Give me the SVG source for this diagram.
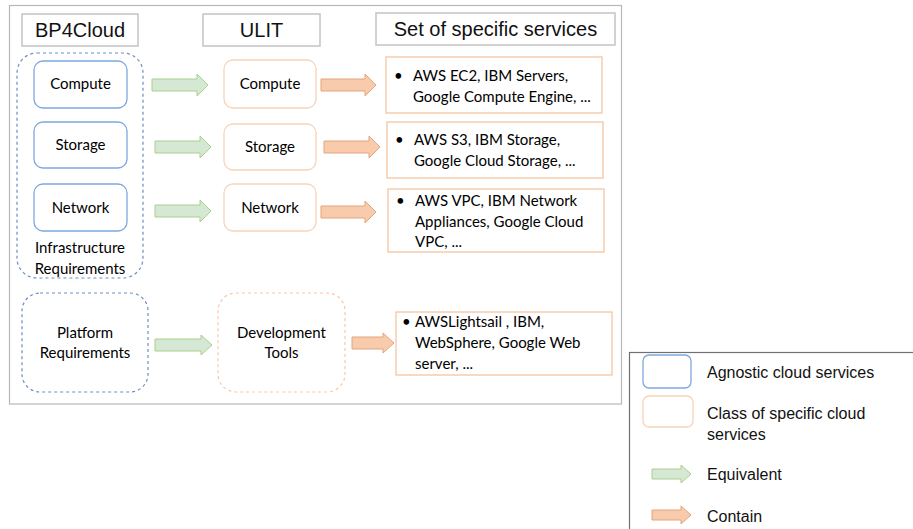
<svg xmlns="http://www.w3.org/2000/svg" width="913" height="529" viewBox="0 0 913 529">
<defs>
<style>
.frame{fill:#fff;stroke:#b8b8b8;stroke-width:1.2}
.hdr{fill:#fff;stroke:#c4c4c4;stroke-width:1.5}
.htx{font-family:"Liberation Sans",Arial,sans-serif;font-size:20px;fill:#111;text-anchor:middle}
.blue{fill:#fff;stroke:#7ea6e0;stroke-width:1.3}
.peach{fill:#fff;stroke:#f8d3b8;stroke-width:1.3}
.svc{fill:#fff;stroke:#f5c6a2;stroke-width:1.3}
.dblue{fill:none;stroke:#6c8ebf;stroke-width:1.2;stroke-dasharray:3 3}
.dpeach{fill:none;stroke:#f8c9a8;stroke-width:1.2;stroke-dasharray:3 3}
.ntx{font-family:Lato,"Noto Sans",sans-serif;font-size:15px;fill:#000;text-anchor:middle}
.stx{font-family:Lato,"Noto Sans",sans-serif;font-size:15px;fill:#000}
.ltx{font-family:"Liberation Sans",Arial,sans-serif;font-size:16px;fill:#111}
.eq{fill:#d5e8d4;stroke:#a9d08e;stroke-width:1}
.ct{fill:#f8cbad;stroke:#e3a57c;stroke-width:1}
</style>
</defs>
<rect width="913" height="529" fill="#fff"/>
<rect class="frame" x="9.5" y="5.5" width="612" height="398.5"/>

<g id="headers">
<rect class="hdr" x="22" y="14" width="116" height="32"/>
<text class="htx" x="80" y="37">BP4Cloud</text>
<rect class="hdr" x="203" y="14" width="117" height="32"/>
<text class="htx" x="261.5" y="37">ULIT</text>
<rect class="hdr" x="376" y="13" width="239" height="32"/>
<text class="htx" x="495.5" y="36">Set of specific services</text>
</g>

<g id="infra-group">
<rect class="dblue" x="17" y="53" width="126" height="225" rx="20"/>
<text class="ntx" x="80" y="253">Infrastructure</text>
<text class="ntx" x="80" y="274">Requirements</text>
</g>
<g id="bp-compute"><rect class="blue" x="34" y="61" width="93" height="47" rx="9"/><text class="ntx" x="80.5" y="89">Compute</text></g>
<g id="bp-storage"><rect class="blue" x="34" y="122" width="93" height="46" rx="9"/><text class="ntx" x="80.5" y="150">Storage</text></g>
<g id="bp-network"><rect class="blue" x="34" y="184" width="93" height="47" rx="9"/><text class="ntx" x="80.5" y="213">Network</text></g>

<g id="ulit-compute"><rect class="peach" x="224" y="60" width="92" height="48" rx="9"/><text class="ntx" x="270" y="89">Compute</text></g>
<g id="ulit-storage"><rect class="peach" x="224" y="124" width="92" height="46" rx="9"/><text class="ntx" x="270" y="152">Storage</text></g>
<g id="ulit-network"><rect class="peach" x="224" y="184" width="92" height="47" rx="9"/><text class="ntx" x="270" y="213">Network</text></g>

<g id="svc-compute">
<rect class="svc" x="386" y="57" width="216" height="56"/>
<text class="stx" x="394" y="81">•</text>
<text class="stx" x="413" y="81">AWS EC2, IBM Servers,</text>
<text class="stx" x="413" y="102">Google Compute Engine, ...</text>
</g>
<g id="svc-storage">
<rect class="svc" x="387" y="122" width="216" height="56"/>
<text class="stx" x="395" y="145">•</text>
<text class="stx" x="414" y="145">AWS S3, IBM Storage,</text>
<text class="stx" x="414" y="166">Google Cloud Storage, ...</text>
</g>
<g id="svc-network">
<rect class="svc" x="388" y="189" width="216" height="63"/>
<text class="stx" x="396" y="206">•</text>
<text class="stx" x="415" y="206">AWS VPC, IBM Network</text>
<text class="stx" x="415" y="226.5">Appliances, Google Cloud</text>
<text class="stx" x="415" y="247">VPC, ...</text>
</g>

<g id="platform"><rect class="dblue" x="22" y="293" width="126" height="99" rx="18"/><text class="ntx" x="85" y="338">Platform</text><text class="ntx" x="85" y="358">Requirements</text></g>
<g id="devtools"><rect class="dpeach" x="218" y="293" width="127" height="99" rx="18"/><text class="ntx" x="281.5" y="338">Development</text><text class="ntx" x="281.5" y="358">Tools</text></g>
<g id="svc-platform">
<rect class="svc" x="396" y="312" width="216" height="63"/>
<text class="stx" x="402" y="327">•</text>
<text class="stx" x="415" y="327">AWSLightsail , IBM,</text>
<text class="stx" x="415" y="348">WebSphere, Google Web</text>
<text class="stx" x="415" y="368.5">server, ...</text>
</g>

<g id="connectors">
<path class="eq" d="M152,79 H197 V74 L208,85 L197,96 V91 H152 Z"/>
<path class="eq" d="M155,141 H200 V136 L211,147 L200,158 V153 H155 Z"/>
<path class="eq" d="M155,205 H200 V200 L211,211 L200,222 V217 H155 Z"/>
<path class="eq" d="M155,339 H201 V335 L212,345 L201,355 V351 H155 Z"/>
<path class="ct" d="M321,79 H365 V74 L376,85 L365,96 V91 H321 Z"/>
<path class="ct" d="M324,141 H369 V136 L380,147 L369,158 V153 H324 Z"/>
<path class="ct" d="M321,206 H365 V201 L376,212 L365,223 V218 H321 Z"/>
<path class="ct" d="M352,337 H383 V333 L394,343 L383,353 V349 H352 Z"/>
</g>

<g id="legend">
<rect x="629.5" y="352.5" width="300" height="200" fill="#fff" stroke="#707070" stroke-width="1.2"/>
<rect class="blue" x="643" y="355" width="48" height="33" rx="6"/>
<text class="ltx" x="707" y="378">Agnostic cloud services</text>
<rect class="peach" x="643" y="396" width="50" height="31" rx="6"/>
<text class="ltx" x="707" y="419">Class of specific cloud</text>
<text class="ltx" x="707" y="440">services</text>
<path class="eq" d="M652,469 H681 V465 L691,474 L681,483 V479 H652 Z"/>
<text class="ltx" x="707" y="480">Equivalent</text>
<path class="ct" d="M652,510 H681 V506 L691,515 L681,524 V520 H652 Z"/>
<text class="ltx" x="707" y="522">Contain</text>
</g>
</svg>
